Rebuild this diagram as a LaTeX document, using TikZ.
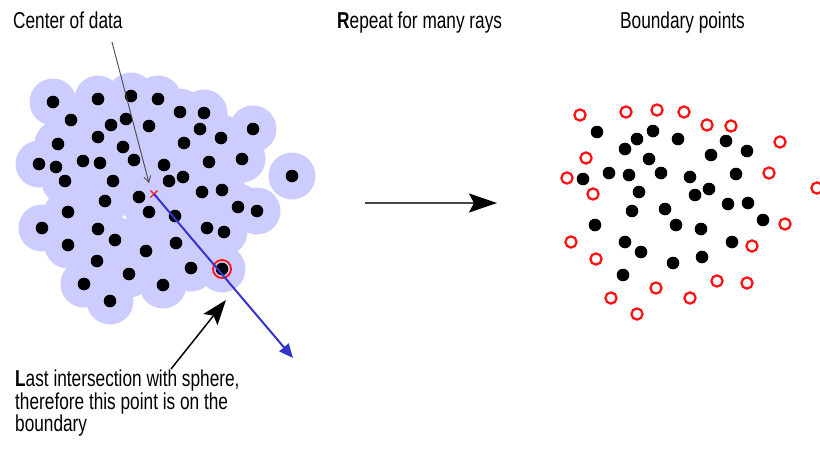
\documentclass[tikz,border=0pt]{standalone}
\usepackage{fontspec}
\setmainfont[FakeStretch=0.75]{Liberation Sans}
\usetikzlibrary{arrows.meta}
\definecolor{sphBlue}{HTML}{CCCCFF}
\definecolor{rayBlue}{HTML}{3434CC}
\definecolor{bndRed}{HTML}{FF1010}
\definecolor{lineGrey}{HTML}{484848}
\tikzset{
  sphere/.style    = {fill=sphBlue},
  datadot/.style   = {fill=black},
  bnddot/.style    = {draw=bndRed, line width=2.2pt},
  hitring/.style   = {circle, draw=bndRed, line width=1.8pt, minimum size=18pt, inner sep=0pt},
  lbl/.style       = {font=\fontsize{23}{20}\selectfont, inner sep=0pt, align=left},
  ptr/.style       = {-{Straight Barb[length=6pt,width=7pt]}, lineGrey, line width=0.9pt},
  ray/.style       = {-{Triangle[length=14pt,width=12pt]}, rayBlue, line width=2pt},
  bigarrow/.style  = {-{Stealth[length=25pt,width=18pt,inset=5pt]}, line width=1.5pt},
}
\newcommand\leftpts{53/102, 98/99, 131/96, 158/99, 180/112, 204/113, 71/120,
  111/125, 126/119, 149/126, 200/129, 253/129, 98/137, 221/138, 58/144,
  123/147, 184/143, 39/164, 56/167, 83/161, 100/163, 134/160, 164/165,
  209/162, 242/159, 292/176, 65/181, 113/181, 169/181, 183/177, 202/192,
  222/190, 238/207, 257/211, 105/201, 139/197, 149/212, 68/212, 175/216,
  42/228, 98/229, 115/240, 68/245, 146/251, 176/243, 207/228, 224/232,
  97/261, 129/274, 84/284, 163/285, 110/301, 191/268, 222/269}
\newcommand\innerpts{597/132, 637/139, 653/131, 678/139, 625/149, 649/159,
  609/173, 629/175, 661/173, 583/179, 639/192, 690/177, 632/211, 665/209,
  726/141, 711/155, 747/151, 736/174, 709/189, 695/195, 728/204, 748/203,
  595/225, 676/225, 625/242, 641/252, 673/263, 623/275, 701/229, 763/220,
  732/242, 702/257}
\newcommand\bndpts{580/115, 626/112, 657/110, 684/112, 707/125, 731/126,
  780/142, 586/158, 567/178, 593/194, 769/173, 817/188, 571/242, 596/259,
  656/288, 611/298, 637/314, 690/298, 785/224, 752/246, 717/281, 747/283}

\begin{document}
\begin{tikzpicture}[x=1pt,y=-1pt]
  \useasboundingbox (0,0) rectangle (820,450);
  % spheres round the data, then the data
  \foreach \x/\y in \leftpts
    \fill[sphere] (\x,\y) circle (23.5pt);
  \foreach \x/\y in \leftpts
    \fill[datadot] (\x,\y) circle (6.3pt);
  \node[hitring] (hit) at (222,269) {};
  % centre of data and the ray through it
  \coordinate (ctr) at (154,194);
  \coordinate (rayend) at (293,358);
  \draw[bndRed, line width=1.3pt] (ctr) ++(-3.5,-3.5) -- ++(7,7)
    (ctr) ++(-3.5,3.5) -- ++(7,-7);
  \draw[ray] (ctr) -- (rayend);
  \node[lbl, anchor=base west] (centerlbl) at (13,28) {Center of data};
  \coordinate (ctrtail) at (112,42);
  \coordinate (ctrtip) at (149,183);
  \draw[ptr] (ctrtail) -- (ctrtip);
  \node[lbl, anchor=north west] (lastlbl) at (15,370)
    {\textbf{L}ast intersection with sphere,\\therefore this point is on the\\boundary};
  \coordinate (lasttail) at (171,369);
  \coordinate (lasttip) at (226,300);
  \draw[bigarrow] (lasttail) -- (lasttip);
  % repeat step
  \node[lbl, anchor=base west] (repeatlbl) at (337,28) {\textbf{R}epeat for many rays};
  \coordinate (repA) at (365,203);
  \coordinate (repB) at (497,203);
  \draw[bigarrow, lineGrey, -{Stealth[length=28pt,width=19pt,inset=5pt,black]}] (repA) -- (repB);
  % boundary points
  \node[lbl, anchor=base west] (boundlbl) at (620,28) {Boundary points};
  \foreach \x/\y in \innerpts
    \fill[datadot] (\x,\y) circle (6.3pt);
  \foreach \x/\y in \bndpts
    \draw[bnddot] (\x,\y) circle (5.6pt);
\end{tikzpicture}
\end{document}
